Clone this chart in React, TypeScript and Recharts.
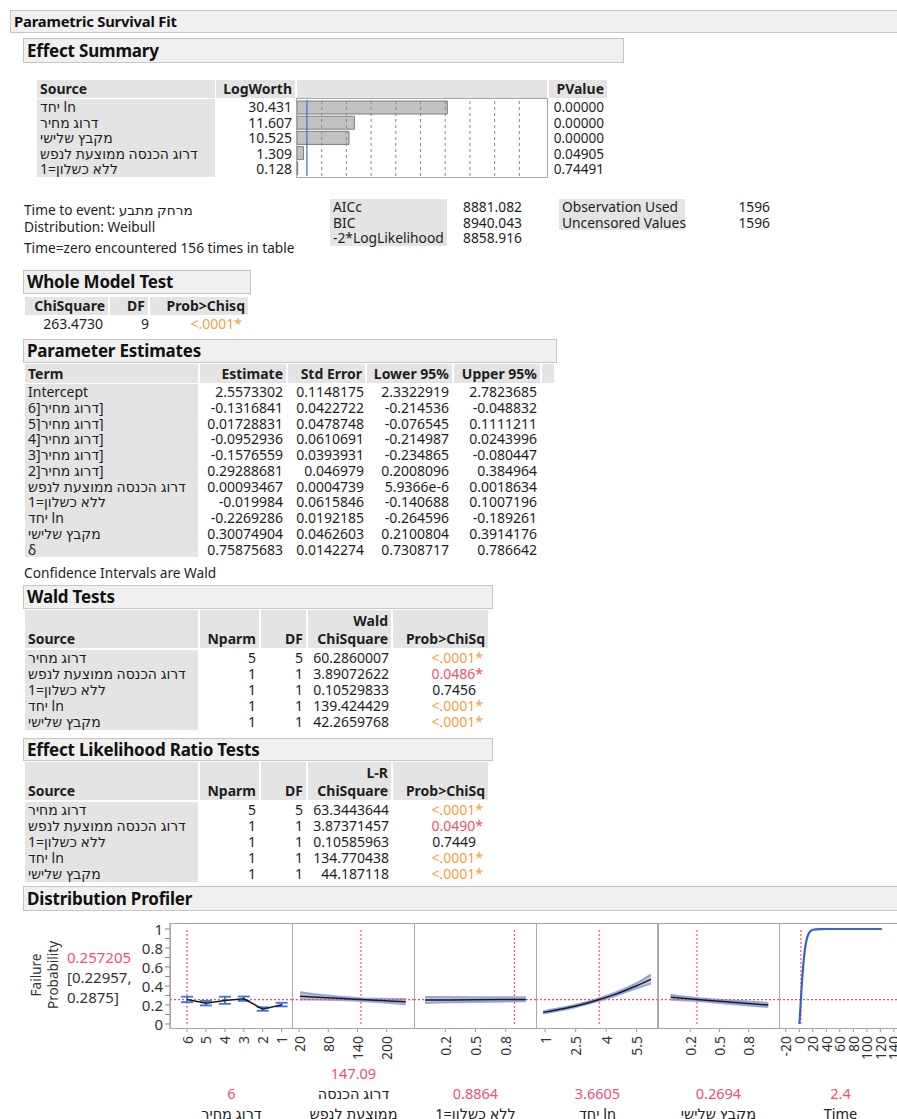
import React from "react";
import {
  BarChart, Bar, XAxis, YAxis, ReferenceLine,
  ComposedChart, Line, Area, ErrorBar,
} from "recharts";

// ---- Effect Summary ----
const EFFECT_SOURCES = ["יחד ln", "דרוג מחיר", "מקבץ שלישי", "דרוג הכנסה ממוצעת לנפש", "ללא כשלון=1"];
const EFFECT_LOGWORTH = [30.431, 11.607, 10.525, 1.309, 0.128];
const EFFECT_PVALUE = ["0.00000", "0.00000", "0.00000", "0.04905", "0.74491"];
const LOGWORTH_GRID = [5, 10, 15, 20, 25, 30, 35, 40, 45];
const LOGWORTH_REF = 2;

// ---- Fit info ----
const INFO_LINES = ["Time to event: מרחק מתבע", "Distribution: Weibull", "Time=zero encountered 156 times in table"];
const FIT_LABELS = ["AICc", "BIC", "-2*LogLikelihood"];
const FIT_VALUES = ["8881.082", "8940.043", "8858.916"];
const OBS_LABELS = ["Observation Used", "Uncensored Values"];
const OBS_VALUES = ["1596", "1596"];

// ---- Whole Model Test ----
const WHOLE_CHISQ = "263.4730";
const WHOLE_DF = "9";
const WHOLE_PROB = "<.0001*";

// ---- Parameter Estimates (terms written as they show on screen) ----
const PARAM_TERMS = ["Intercept", "6]דרוג מחיר]", "5]דרוג מחיר]", "4]דרוג מחיר]", "3]דרוג מחיר]", "2]דרוג מחיר]", "דרוג הכנסה ממוצעת לנפש", "ללא כשלון=1", "יחד ln", "מקבץ שלישי", "δ"];
const PARAM_EST = ["2.5573302", "-0.1316841", "0.01728831", "-0.0952936", "-0.1576559", "0.29288681", "0.00093467", "-0.019984", "-0.2269286", "0.30074904", "0.75875683"];
const PARAM_SE = ["0.1148175", "0.0422722", "0.0478748", "0.0610691", "0.0393931", "0.046979", "0.0004739", "0.0615846", "0.0192185", "0.0462603", "0.0142274"];
const PARAM_LO = ["2.3322919", "-0.214536", "-0.076545", "-0.214987", "-0.234865", "0.2008096", "5.9366e-6", "-0.140688", "-0.264596", "0.2100804", "0.7308717"];
const PARAM_HI = ["2.7823685", "-0.048832", "0.1111211", "0.0243996", "-0.080447", "0.384964", "0.0018634", "0.1007196", "-0.189261", "0.3914176", "0.786642"];

// ---- Wald / LR tests ----
const TEST_SOURCES = ["דרוג מחיר", "דרוג הכנסה ממוצעת לנפש", "ללא כשלון=1", "יחד ln", "מקבץ שלישי"];
const TEST_NPARM = ["5", "1", "1", "1", "1"];
const TEST_DF = ["5", "1", "1", "1", "1"];
const WALD_CHISQ = ["60.2860007", "3.89072622", "0.10529833", "139.424429", "42.2659768"];
const WALD_PROB = ["<.0001*", "0.0486*", "0.7456", "<.0001*", "<.0001*"];
const LR_CHISQ = ["63.3443644", "3.87371457", "0.10585963", "134.770438", "44.187118"];
const LR_PROB = ["<.0001*", "0.0490*", "0.7449", "<.0001*", "<.0001*"];

// ---- Distribution Profiler ----
const CURRENT_PROB = 0.257205;
const Y_TICKS = [0, 0.1, 0.2, 0.3, 0.4, 0.5, 0.6, 0.7, 0.8, 0.9, 1];

const PRICE_X = [6, 5, 4, 3, 2, 1];
const PRICE_P = [0.257, 0.217, 0.247, 0.265, 0.156, 0.203];
const PRICE_ERR_DOWN = [0.028, 0.022, 0.035, 0.022, 0.017, 0.018];
const PRICE_ERR_UP = [0.030, 0.025, 0.040, 0.024, 0.020, 0.020];

const INCOME_X = [22, 60, 100, 147.09, 190, 239];
const INCOME_P = [0.293, 0.282, 0.270, 0.257, 0.246, 0.233];
const INCOME_LO = [0.258, 0.257, 0.252, 0.243, 0.228, 0.207];
const INCOME_HI = [0.335, 0.310, 0.290, 0.272, 0.265, 0.262];

const NOFAIL_X = [0, 0.5, 1];
const NOFAIL_P = [0.252, 0.255, 0.258];
const NOFAIL_LO = [0.222, 0.232, 0.238];
const NOFAIL_HI = [0.285, 0.280, 0.280];

const LN_X = [0.9, 2, 3, 3.66, 4.5, 5.5, 6.2];
const LN_P = [0.122, 0.165, 0.216, 0.257, 0.317, 0.403, 0.470];
const LN_LO = [0.110, 0.152, 0.204, 0.245, 0.300, 0.375, 0.425];
const LN_HI = [0.135, 0.178, 0.228, 0.270, 0.335, 0.430, 0.520];

const CLUSTER_X = [0, 0.27, 0.5, 1];
const CLUSTER_P = [0.282, 0.257, 0.238, 0.199];
const CLUSTER_LO = [0.255, 0.242, 0.222, 0.178];
const CLUSTER_HI = [0.308, 0.273, 0.255, 0.222];

const TIME_X = [0, 0.5, 1, 2.4, 5, 7.5, 10, 15, 20, 30, 40, 122];
const TIME_P = [0, 0.037, 0.089, 0.257, 0.542, 0.736, 0.857, 0.964, 0.992, 0.999, 1, 1];

const PRICE_TICKS = [6, 5, 4, 3, 2, 1];
const INCOME_TICKS = [20, 80, 140, 200];
const NOFAIL_TICKS = [0.2, 0.5, 0.8];
const LN_TICKS = [1, 2.5, 4, 5.5];
const CLUSTER_TICKS = [0.2, 0.5, 0.8];
const TIME_TICKS = [-20, 0, 20, 40, 60, 80, 100, 120, 140];

const FONT = "'Noto Sans', 'DejaVu Sans', sans-serif";
const TEXT = "#1e1e1e";
const CELL_BG = "#e4e4e4";
const RED = "#f0506e";
const ORANGE = "#f5a040";
const PLOT_BORDER = "#a8a8a8";
const BODY = 14;
const HEAD = 14;

const probColor = (p: string) => (p.startsWith("<") ? ORANGE : p.endsWith("*") ? RED : TEXT);

type CellProps = {
  x: number; y: number; w: number; h: number;
  text?: React.ReactNode; align?: "left" | "right" | "center";
  bg?: string; bold?: boolean; color?: string; size?: number; padRight?: number;
};

function Cell({ x, y, w, h, text, align = "left", bg, bold, color = TEXT, size = BODY, padRight = 3 }: CellProps) {
  return (
    <div style={{
      position: "absolute", left: x, top: y, width: w, height: h, lineHeight: `${h}px`,
      textAlign: align, background: bg, fontWeight: bold ? 700 : 400, color, fontSize: size,
      padding: `0 ${padRight}px 0 3px`, boxSizing: "border-box", whiteSpace: "nowrap",
    }}>{text}</div>
  );
}

function Section({ x, y, w, h, title, size = 17 }: { x: number; y: number; w: number; h: number; title: string; size?: number }) {
  return (
    <div style={{
      position: "absolute", left: x, top: y, width: w, height: h, background: "#f0f0f0",
      border: "1px solid #c6c6c6", boxSizing: "border-box", fontWeight: 700, fontSize: size,
      lineHeight: `${h - 2}px`, paddingLeft: 3, color: "#111", whiteSpace: "nowrap", letterSpacing: -0.2,
    }}>{title}</div>
  );
}

const RotTick = (props: any) => {
  const { x, y, payload } = props;
  const ty = y + 2;
  return (
    <text x={x} y={ty} transform={`rotate(-90 ${x} ${ty})`} textAnchor="end" dominantBaseline="central"
      fontSize={14} fill="#333" fontFamily={FONT}>{payload.value}</text>
  );
};

const YTick = (props: any) => {
  const { x, y, payload } = props;
  const v = payload.value as number;
  if (Math.round(v * 10) % 2 !== 0) return null;
  const label = v === 0 ? "0" : v === 1 ? "1" : v.toFixed(1);
  return <text x={x} y={y} textAnchor="end" dominantBaseline="central" fontSize={15} fill="#333" fontFamily={FONT}>{label}</text>;
};

const Y_DOMAIN: [number, number] = [-0.053, 1.063];
const PLOT_H = 106;
const AXIS_H = 48;
const PAD = 12; // room around each panel so no label is clipped by its svg

type PanelProps = {
  left: number; top: number;
  data: any[]; domain: [number, number]; ticks: number[]; current: number;
  reversed?: boolean; yAxis?: boolean; band?: boolean; errors?: boolean; lineColor?: string; lineWidth?: number;
};

function ProfilerPanel({ left, top, data, domain, ticks, current, reversed, yAxis, band, errors, lineColor = "#1a1a1a", lineWidth = 1.5 }: PanelProps) {
  const yw = yAxis ? 30 : 0;
  const w = 123 + yw + PAD * 2;
  const h = PLOT_H + AXIS_H + PAD;
  return (
    <div style={{ position: "absolute", left: left - PAD, top: top - PAD, width: w, height: h }}>
      <ComposedChart width={w} height={h} data={data} margin={{ top: PAD, right: PAD, bottom: 0, left: PAD }}>
        <XAxis dataKey="x" type="number" domain={domain} ticks={ticks} reversed={reversed} allowDataOverflow
          interval={0} height={AXIS_H} axisLine={false} tickLine={{ stroke: "#999" }} tickSize={3} tick={<RotTick />} />
        <YAxis type="number" domain={Y_DOMAIN} ticks={Y_TICKS} allowDataOverflow hide={!yAxis} width={yw}
          interval={0} axisLine={{ stroke: "#888" }} tickLine={{ stroke: "#888" }} tickSize={5} tick={<YTick />} />
        {band && (
          <Area dataKey="band" type="monotone" fill="#b4b4b4" fillOpacity={0.75} stroke="#7d98e6"
            strokeWidth={2} strokeOpacity={0.8} isAnimationActive={false} />
        )}
        <ReferenceLine y={CURRENT_PROB} stroke={RED} strokeDasharray="2 2" strokeWidth={1.2} />
        <ReferenceLine segment={[{ x: current, y: 0 }, { x: current, y: 1 }]} stroke={RED} strokeDasharray="2 2" strokeWidth={1.2} />
        <Line dataKey="p" type={errors ? "linear" : "monotone"} stroke={lineColor} strokeWidth={lineWidth} dot={false} isAnimationActive={false}>
          {errors && <ErrorBar dataKey="err" width={6} stroke="#3f72e0" strokeWidth={1.8} direction="y" />}
        </Line>
      </ComposedChart>
      <div style={{
        position: "absolute", left: PAD + yw, top: PAD, width: 123, height: PLOT_H,
        border: `1px solid ${PLOT_BORDER}`, boxSizing: "border-box", pointerEvents: "none",
      }} />
    </div>
  );
}

const bandRows = (xs: number[], ps: number[], lo: number[], hi: number[]) =>
  xs.map((x, i) => ({ x, p: ps[i], band: [lo[i], hi[i]] }));

const PANEL_LEFTS = [140, 292, 414, 536, 657, 779];
const PANEL_TOP = 923;
const PANEL_LABELS = [
  { value: "6", name: ["דרוג מחיר"] },
  { value: "147.09", name: ["דרוג הכנסה", "ממוצעת לנפש"] },
  { value: "0.8864", name: ["ללא כשלון=1"] },
  { value: "3.6605", name: ["יחד ln"] },
  { value: "0.2694", name: ["מקבץ שלישי"] },
  { value: "2.4", name: ["Time"] },
];

export default function App() {
  const effectData = EFFECT_SOURCES.map((s, i) => ({ source: s, logworth: EFFECT_LOGWORTH[i] }));
  const priceData = PRICE_X.map((x, i) => ({ x, p: PRICE_P[i], err: [PRICE_ERR_DOWN[i], PRICE_ERR_UP[i]] }));
  const incomeData = bandRows(INCOME_X, INCOME_P, INCOME_LO, INCOME_HI);
  const nofailData = bandRows(NOFAIL_X, NOFAIL_P, NOFAIL_LO, NOFAIL_HI);
  const lnData = bandRows(LN_X, LN_P, LN_LO, LN_HI);
  const clusterData = bandRows(CLUSTER_X, CLUSTER_P, CLUSTER_LO, CLUSTER_HI);
  const timeData = TIME_X.map((x, i) => ({ x, p: TIME_P[i] }));

  const esRow = 15.6;
  const peRow = 15.75;

  return (
    <div style={{ position: "relative", width: 897, height: 1119, overflow: "hidden", background: "#fff", fontFamily: FONT, color: TEXT }}>
      <style>{"body{margin:0}"}</style>

      <Section x={10} y={10} w={900} h={23} title="Parametric Survival Fit" size={14.8} />
      <Section x={23} y={38} w={601} h={25} title="Effect Summary" />

      {/* Effect summary table */}
      <Cell x={37} y={80} w={178} h={18} text="Source" bold bg={CELL_BG} size={HEAD} />
      <Cell x={216} y={80} w={79} h={18} text="LogWorth" bold bg={CELL_BG} align="right" size={HEAD} />
      <Cell x={297} y={80} w={250} h={18} bg={CELL_BG} />
      <Cell x={549} y={80} w={58} h={18} text="PValue" bold bg={CELL_BG} align="right" size={HEAD} />
      {EFFECT_SOURCES.map((s, i) => (
        <React.Fragment key={s}>
          <Cell x={37} y={99 + i * esRow} w={178} h={esRow} text={s} bg={CELL_BG} />
          <Cell x={216} y={99 + i * esRow} w={79} h={esRow} text={EFFECT_LOGWORTH[i].toFixed(3)} align="right" />
          <Cell x={549} y={99 + i * esRow} w={58} h={esRow} text={EFFECT_PVALUE[i]} align="right" size={13.6} />
        </React.Fragment>
      ))}
      <div style={{ position: "absolute", left: 296, top: 98, width: 252, height: 80, border: `1px solid ${PLOT_BORDER}`, boxSizing: "border-box" }}>
        <BarChart layout="vertical" width={250} height={78} data={effectData} margin={{ top: 1, right: 0, bottom: 1, left: 0 }} barCategoryGap={2}>
          <XAxis type="number" domain={[0, 50.6]} hide allowDataOverflow />
          <YAxis type="category" dataKey="source" hide />
          {LOGWORTH_GRID.map((t) => (
            <ReferenceLine key={t} x={t} stroke="#8a8a8a" strokeDasharray="3 3" />
          ))}
          <Bar dataKey="logworth" fill="#c2c2c2" stroke="#7c7c7c" strokeWidth={1} barSize={13} isAnimationActive={false} />
          <ReferenceLine x={LOGWORTH_REF} stroke="#3b6ee0" strokeWidth={1.2} />
        </BarChart>
      </div>

      {/* Info */}
      {INFO_LINES.map((t, i) => (
        <Cell key={t} x={21} y={[202, 219, 240][i]} w={320} h={16} text={t} size={13.7} />
      ))}
      {FIT_LABELS.map((l, i) => (
        <React.Fragment key={l}>
          <Cell x={330} y={199 + i * 15.7} w={117} h={15.7} text={l} bg={CELL_BG} size={13.8} />
          <Cell x={447} y={199 + i * 15.7} w={78} h={15.7} text={FIT_VALUES[i]} align="right" size={13.8} />
        </React.Fragment>
      ))}
      {OBS_LABELS.map((l, i) => (
        <React.Fragment key={l}>
          <Cell x={559} y={199 + i * 15.7} w={126} h={15.7} text={l} bg={CELL_BG} size={13.8} />
          <Cell x={685} y={199 + i * 15.7} w={88} h={15.7} text={OBS_VALUES[i]} align="right" size={13.8} />
        </React.Fragment>
      ))}

      {/* Whole model test */}
      <Section x={23} y={270} w={228} h={24} title="Whole Model Test" />
      <Cell x={25} y={297} w={83} h={18} text="ChiSquare" bold bg={CELL_BG} align="right" size={HEAD} />
      <Cell x={110} y={297} w={38} h={18} text="DF" bold bg={CELL_BG} align="right" size={HEAD} />
      <Cell x={150} y={297} w={98} h={18} text="Prob>Chisq" bold bg={CELL_BG} align="right" size={HEAD} />
      <Cell x={25} y={316} w={81} h={15} text={WHOLE_CHISQ} align="right" />
      <Cell x={110} y={316} w={42} h={15} text={WHOLE_DF} align="right" />
      <Cell x={150} y={316} w={95} h={15} text={WHOLE_PROB} align="right" color={probColor(WHOLE_PROB)} />

      {/* Parameter estimates */}
      <Section x={23} y={339} w={534} h={24} title="Parameter Estimates" />
      <Cell x={25} y={364} w={173} h={19} text="Term" bold bg={CELL_BG} size={HEAD} />
      <Cell x={200} y={364} w={86} h={19} text="Estimate" bold bg={CELL_BG} align="right" size={HEAD} />
      <Cell x={288} y={364} w={77} h={19} text="Std Error" bold bg={CELL_BG} align="right" size={HEAD} />
      <Cell x={367} y={364} w={85} h={19} text="Lower 95%" bold bg={CELL_BG} align="right" size={HEAD} />
      <Cell x={454} y={364} w={86} h={19} text="Upper 95%" bold bg={CELL_BG} align="right" size={HEAD} />
      <Cell x={542} y={364} w={12} h={19} bg={CELL_BG} />
      {PARAM_TERMS.map((t, i) => {
        const y = 384 + i * peRow;
        return (
          <React.Fragment key={t}>
            <Cell x={25} y={y} w={173} h={peRow} text={t} bg={CELL_BG} />
            <Cell x={200} y={y} w={86} h={peRow} text={PARAM_EST[i]} align="right" />
            <Cell x={288} y={y} w={79} h={peRow} text={PARAM_SE[i]} align="right" />
            <Cell x={367} y={y} w={85} h={peRow} text={PARAM_LO[i]} align="right" />
            <Cell x={454} y={y} w={86} h={peRow} text={PARAM_HI[i]} align="right" />
          </React.Fragment>
        );
      })}
      <Cell x={21} y={565} w={300} h={16} text="Confidence Intervals are Wald" size={13.7} />

      {/* Wald and likelihood ratio tests */}
      <Section x={23} y={585} w={470} h={24} title="Wald Tests" />
      <Section x={23} y={738} w={470} h={23} title="Effect Likelihood Ratio Tests" />
      {[
        { top: 610, label: "Wald", chi: WALD_CHISQ, prob: WALD_PROB },
        { top: 762, label: "L-R", chi: LR_CHISQ, prob: LR_PROB },
      ].map((tbl) => (
        <React.Fragment key={tbl.label}>
          <Cell x={25} y={tbl.top} w={173} h={38} bg={CELL_BG} />
          <Cell x={25} y={tbl.top + 20} w={173} h={18} text="Source" bold size={HEAD} />
          <Cell x={200} y={tbl.top} w={59} h={38} bg={CELL_BG} />
          <Cell x={200} y={tbl.top + 20} w={59} h={18} text="Nparm" bold align="right" size={HEAD} />
          <Cell x={261} y={tbl.top} w={45} h={38} bg={CELL_BG} />
          <Cell x={261} y={tbl.top + 20} w={45} h={18} text="DF" bold align="right" size={HEAD} />
          <Cell x={308} y={tbl.top} w={83} h={38} bg={CELL_BG} />
          <Cell x={308} y={tbl.top + 2} w={83} h={18} text={tbl.label} bold align="right" size={HEAD} />
          <Cell x={308} y={tbl.top + 20} w={83} h={18} text="ChiSquare" bold align="right" size={HEAD} />
          <Cell x={393} y={tbl.top} w={95} h={38} bg={CELL_BG} />
          <Cell x={393} y={tbl.top + 20} w={95} h={18} text="Prob>ChiSq" bold align="right" size={HEAD} />
          {TEST_SOURCES.map((s, i) => {
            const y = tbl.top + 40 + i * 16;
            const starred = tbl.prob[i].endsWith("*");
            return (
              <React.Fragment key={s}>
                <Cell x={25} y={y} w={173} h={16} text={s} bg={CELL_BG} />
                <Cell x={200} y={y} w={59} h={16} text={TEST_NPARM[i]} align="right" />
                <Cell x={261} y={y} w={45} h={16} text={TEST_DF[i]} align="right" />
                <Cell x={308} y={y} w={84} h={16} text={tbl.chi[i]} align="right" />
                <Cell x={393} y={y} w={93} h={16} text={tbl.prob[i]} align="right" padRight={starred ? 3 : 10}
                  color={probColor(tbl.prob[i])} />
              </React.Fragment>
            );
          })}
        </React.Fragment>
      ))}

      {/* Distribution profiler */}
      <Section x={23} y={886} w={890} h={25} title="Distribution Profiler" />

      <div style={{
        position: "absolute", left: -9, top: 957, width: 110, height: 36, transform: "rotate(-90deg)",
        transformOrigin: "center", textAlign: "center", fontSize: 13.5, lineHeight: "17px", color: "#333",
      }}>Failure<br />Probability</div>
      <Cell x={64} y={948} w={80} h={19} text={CURRENT_PROB.toString()} color={RED} size={15} />
      <Cell x={64} y={968} w={80} h={19} text="[0.22957," size={15} color="#333" />
      <Cell x={64} y={988} w={80} h={19} text="0.2875]" size={15} color="#333" />

      <ProfilerPanel left={PANEL_LEFTS[0]} top={PANEL_TOP} data={priceData} domain={[0.4, 6.9]} ticks={PRICE_TICKS} current={6} reversed yAxis errors />
      <ProfilerPanel left={PANEL_LEFTS[1]} top={PANEL_TOP} data={incomeData} domain={[5.5, 258]} ticks={INCOME_TICKS} current={147.09} band />
      <ProfilerPanel left={PANEL_LEFTS[2]} top={PANEL_TOP} data={nofailData} domain={[-0.11, 1.11]} ticks={NOFAIL_TICKS} current={0.8864} band />
      <ProfilerPanel left={PANEL_LEFTS[3]} top={PANEL_TOP} data={lnData} domain={[0.55, 6.6]} ticks={LN_TICKS} current={3.6605} band />
      <ProfilerPanel left={PANEL_LEFTS[4]} top={PANEL_TOP} data={clusterData} domain={[-0.14, 1.12]} ticks={CLUSTER_TICKS} current={0.2694} band />
      <ProfilerPanel left={PANEL_LEFTS[5]} top={PANEL_TOP} data={timeData} domain={[-30, 152]} ticks={TIME_TICKS} current={2.4} lineColor="#3a5fcd" lineWidth={2.2} />

      {PANEL_LABELS.map((lab, i) => {
        const left = i === 0 ? PANEL_LEFTS[0] + 30 : PANEL_LEFTS[i];
        const lines = [lab.value, ...lab.name];
        return lines.map((t, j) => (
          <Cell key={`${i}-${j}`} x={left} y={1103 - (lines.length - 1 - j) * 20} w={123} h={20}
            text={t} align="center" size={14.5} color={j === 0 ? RED : "#222"} />
        ));
      })}
    </div>
  );
}
